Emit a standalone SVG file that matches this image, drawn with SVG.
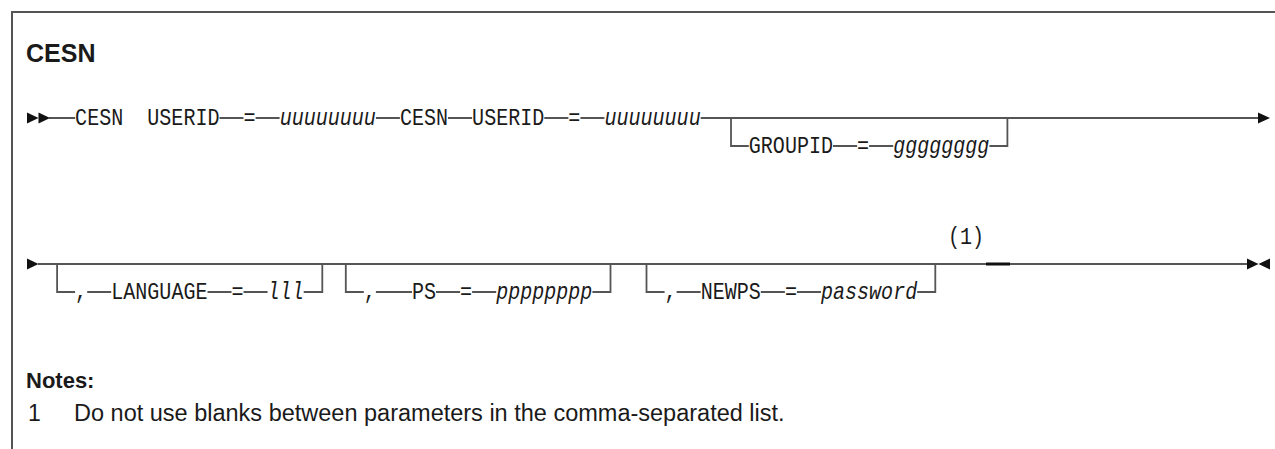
<svg xmlns="http://www.w3.org/2000/svg" width="1275" height="449" viewBox="0 0 1275 449">
<style>
.frame{fill:none;stroke:#555;stroke-width:2}
.ln{fill:none;stroke:#555;stroke-width:1.8}
.heavy{fill:none;stroke:#111;stroke-width:3}
.tri{fill:#111}
.m{font-family:"Liberation Mono","DejaVu Sans Mono",monospace;font-size:23px;fill:#1a1a1a}
.v{font-style:italic}
.h{font-family:"Liberation Sans",Arial,sans-serif;fill:#1a1a1a}
.b{font-weight:bold}
</style>
<rect width="1275" height="449" fill="#fff"/>
<path class="frame" d="M12,449 V12 H1275"/>
<g id="title"><text class="h b" x="26" y="62" font-size="25">CESN</text></g>

<g id="connectors">
  <!-- row 1 -->
  <path class="ln" d="M49,118 H75.1 M219.5,118 H243.5 M255.6,118 H279.6 M375.9,118 H399.9 M448,118 H472.1 M544.3,118 H568.4 M580.4,118 H604.4 M700.7,118 H1259"/>
  <path class="ln" d="M731,118 V146 H748.8 M833,146 H857.1 M869.1,146 H893.2 M989.4,146 H1007.4 V118"/>
  <!-- row 2 -->
  <path class="ln" d="M38,264 H1247"/>
  <path class="ln" d="M57.1,264 V292 H75.1 M87.2,292 H111.2 M207.5,292 H231.5 M243.5,292 H267.6 M303.7,292 H322.3 V264"/>
  <path class="ln" d="M345.8,264 V292 H363.8 M375.9,292 H412 M436,292 H460.1 M472.1,292 H496.2 M592.4,292 H610.5 V264"/>
  <path class="ln" d="M646.5,264 V292 H664.6 M676.6,292 H700.7 M760.8,292 H784.9 M796.9,292 H821 M917.2,292 H935.3 V264"/>
  <path class="heavy" d="M986,264 H1010"/>
  <polygon class="tri" points="27,112.5 38.5,118 27,123.5"/>
  <polygon class="tri" points="38.5,112.5 50,118 38.5,123.5"/>
  <polygon class="tri" points="1258,112.5 1270,118 1258,123.5"/>
  <polygon class="tri" points="27,258.5 38.5,264 27,269.5"/>
  <polygon class="tri" points="1247,258.5 1258.5,264 1247,269.5"/>
  <polygon class="tri" points="1270,258.5 1258.5,264 1270,269.5"/>
</g>

<g id="row1">
  <g id="kw-cesn"><text class="m" x="75.12" y="124.5" textLength="48.12" lengthAdjust="spacingAndGlyphs">CESN</text></g>
  <g id="kw-userid"><text class="m" x="147.3" y="124.5" textLength="72.18" lengthAdjust="spacingAndGlyphs">USERID</text></g>
  <g id="eq-1"><text class="m" x="243.54" y="124.5" textLength="12.03" lengthAdjust="spacingAndGlyphs">=</text></g>
  <g id="var-u1"><text class="m v" x="279.63" y="124.5" textLength="96.24" lengthAdjust="spacingAndGlyphs">uuuuuuuu</text></g>
  <g id="kw-cesn2"><text class="m" x="399.93" y="124.5" textLength="48.12" lengthAdjust="spacingAndGlyphs">CESN</text></g>
  <g id="kw-userid2"><text class="m" x="472.11" y="124.5" textLength="72.18" lengthAdjust="spacingAndGlyphs">USERID</text></g>
  <g id="eq-2"><text class="m" x="568.35" y="124.5" textLength="12.03" lengthAdjust="spacingAndGlyphs">=</text></g>
  <g id="var-u2"><text class="m v" x="604.44" y="124.5" textLength="96.24" lengthAdjust="spacingAndGlyphs">uuuuuuuu</text></g>
  <g id="opt-groupid">
    <text class="m" x="748.8" y="152.5" textLength="84.21" lengthAdjust="spacingAndGlyphs">GROUPID</text>
    <text class="m" x="857.07" y="152.5" textLength="12.03" lengthAdjust="spacingAndGlyphs">=</text>
    <text class="m v" x="893.16" y="152.5" textLength="96.24" lengthAdjust="spacingAndGlyphs">gggggggg</text>
  </g>
</g>

<g id="row2">
  <g id="opt-language">
    <text class="m" x="75.12" y="298.5" textLength="12.03" lengthAdjust="spacingAndGlyphs">,</text>
    <text class="m" x="111.24" y="298.5" textLength="96.24" lengthAdjust="spacingAndGlyphs">LANGUAGE</text>
    <text class="m" x="231.51" y="298.5" textLength="12.03" lengthAdjust="spacingAndGlyphs">=</text>
    <text class="m v" x="267.6" y="298.5" textLength="36.09" lengthAdjust="spacingAndGlyphs">lll</text>
  </g>
  <g id="opt-ps">
    <text class="m" x="363.84" y="298.5" textLength="12.03" lengthAdjust="spacingAndGlyphs">,</text>
    <text class="m" x="411.96" y="298.5" textLength="24.06" lengthAdjust="spacingAndGlyphs">PS</text>
    <text class="m" x="460.08" y="298.5" textLength="12.03" lengthAdjust="spacingAndGlyphs">=</text>
    <text class="m v" x="496.17" y="298.5" textLength="96.24" lengthAdjust="spacingAndGlyphs">pppppppp</text>
  </g>
  <g id="opt-newps">
    <text class="m" x="664.59" y="298.5" textLength="12.03" lengthAdjust="spacingAndGlyphs">,</text>
    <text class="m" x="700.68" y="298.5" textLength="60.15" lengthAdjust="spacingAndGlyphs">NEWPS</text>
    <text class="m" x="784.89" y="298.5" textLength="12.03" lengthAdjust="spacingAndGlyphs">=</text>
    <text class="m v" x="820.98" y="298.5" textLength="96.24" lengthAdjust="spacingAndGlyphs">password</text>
  </g>
  <g id="note-ref"><text class="m" x="948" y="244" textLength="36.09" lengthAdjust="spacingAndGlyphs">(1)</text></g>
</g>

<g id="notes">
  <text class="h b" x="26" y="388" font-size="22">Notes:</text>
  <text class="h" x="28" y="421" font-size="23">1</text>
  <text class="h" x="74" y="421" font-size="23.5">Do not use blanks between parameters in the comma-separated list.</text>
</g>
</svg>
